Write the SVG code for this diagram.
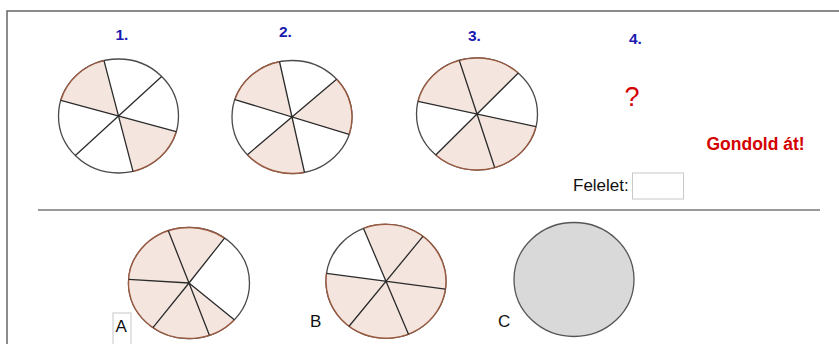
<svg xmlns="http://www.w3.org/2000/svg" width="839" height="344" viewBox="0 0 839 344">
<style>
.num{font-family:"Liberation Sans",Arial,sans-serif;font-weight:bold;font-size:15.5px;fill:#1a1ab0}
.lbl{font-family:"Liberation Sans",Arial,sans-serif;font-size:17px;fill:#111}
.red{font-family:"Liberation Sans",Arial,sans-serif;fill:#d40000}
.sh{fill:#f4e6df;stroke:none}
.rim{fill:#fff;stroke:#4a4a4a;stroke-width:1.3}
.arc{fill:none;stroke:#9a5a40;stroke-width:1.4}
.sp{stroke:#2b2b2b;stroke-width:1.3;fill:none}
.box{fill:#fff;stroke:#c8c8c8;stroke-width:1}
</style>
<rect width="839" height="344" fill="#fff"/>
<g id="frame">
<rect x="7" y="11" width="840" height="340" fill="none" stroke="#666" stroke-width="1.5"/>
</g>
<g id="connectors">
<line x1="38" y1="210" x2="820" y2="210" stroke="#777" stroke-width="1.5"/>
</g>
<g id="t1"><text class="num" x="115.5" y="40">1.</text></g>
<g id="t2"><text class="num" x="279" y="37">2.</text></g>
<g id="t3"><text class="num" x="468" y="40.5">3.</text></g>
<g id="t4"><text class="num" x="629" y="44">4.</text></g>

<g id="circle1">
<ellipse class="rim" cx="118.5" cy="116" rx="60" ry="57"/>
<path class="sh" d="M118.5,116 L60.82,100.29 A60,57 0 0 1 103.99,60.69 Z"/>
<path class="sh" d="M118.5,116 L176.18,131.71 A60,57 0 0 1 133.01,171.31 Z"/>
<path class="arc" d="M60.82,100.29 A60,57 0 0 1 103.99,60.69"/>
<path class="arc" d="M176.18,131.71 A60,57 0 0 1 133.01,171.31"/>
<path class="sp" d="M176.18,131.71 L60.82,100.29 M133.01,171.31 L103.99,60.69 M75.34,155.6 L161.66,76.4"/>
</g>

<g id="circle2">
<ellipse class="rim" cx="292" cy="117" rx="60" ry="56.5"/>
<path class="sh" d="M292,117 L234.93,99.54 A60,56.5 0 0 1 279.53,61.74 Z"/>
<path class="sh" d="M292,117 L336.59,79.2 A60,56.5 0 0 1 349.07,134.46 Z"/>
<path class="sh" d="M292,117 L304.47,172.26 A60,56.5 0 0 1 247.41,154.8 Z"/>
<path class="arc" d="M234.93,99.54 A60,56.5 0 0 1 279.53,61.74 M336.59,79.2 A60,56.5 0 0 1 349.07,134.46 M304.47,172.26 A60,56.5 0 0 1 247.41,154.8"/>
<path class="sp" d="M349.07,134.46 L234.93,99.54 M304.47,172.26 L279.53,61.74 M247.41,154.8 L336.59,79.2"/>
</g>

<g id="circle3">
<ellipse class="rim" cx="477" cy="114" rx="60.5" ry="56"/>
<path class="sh" d="M477,114 L418.05,101.4 A60.5,56 0 0 1 518.26,73.04 Z"/>
<path class="sh" d="M477,114 L535.95,126.6 A60.5,56 0 0 1 435.74,154.96 Z"/>
<path class="arc" d="M418.05,101.4 A60.5,56 0 0 1 518.26,73.04 M535.95,126.6 A60.5,56 0 0 1 435.74,154.96"/>
<path class="sp" d="M535.95,126.6 L418.05,101.4 M494.69,167.55 L459.31,60.45 M435.74,154.96 L518.26,73.04"/>
</g>

<g id="q4">
<text class="red" x="624.5" y="106" font-size="27">?</text>
</g>
<g id="hint">
<text class="red" x="706.5" y="150" font-size="17.5" font-weight="bold">Gondold át!</text>
</g>
<g id="answer">
<text class="lbl" x="573" y="191">Felelet:</text>
<rect class="box" x="632.5" y="173" width="51" height="26"/>
</g>

<g id="optionA">
<ellipse class="rim" cx="189" cy="283" rx="60.5" ry="55.5"/>
<path class="sh" d="M189,283 L234.31,319.77 A60.5,55.5 0 1 1 224.56,238.1 Z"/>
<path class="arc" d="M234.31,319.77 A60.5,55.5 0 1 1 224.56,238.1"/>
<path class="sp" d="M189,283 L168.31,230.85 M189,283 L224.56,238.1 M189,283 L234.31,319.77 M189,283 L209.39,335.25 M189,283 L152.93,327.56 M189,283 L128.63,279.32"/>
<rect class="box" x="113" y="313" width="18" height="34"/>
<text class="lbl" x="115.5" y="332" font-size="16">A</text>
</g>

<g id="optionB">
<ellipse class="rim" cx="386" cy="281.3" rx="60" ry="57"/>
<path class="sh" d="M386,281.3 L363.52,228.45 A60,57 0 1 1 326.58,273.37 Z"/>
<path class="arc" d="M363.52,228.45 A60,57 0 1 1 326.58,273.37"/>
<path class="sp" d="M445.42,289.23 L326.58,273.37 M408.48,334.15 L363.52,228.45 M349.06,326.22 L422.94,236.38"/>
<text class="lbl" x="310" y="327">B</text>
</g>

<g id="optionC">
<ellipse cx="574" cy="279.5" rx="60" ry="57" fill="#d9d9d9" stroke="#555" stroke-width="1.3"/>
<text class="lbl" x="498" y="327">C</text>
</g>
</svg>
